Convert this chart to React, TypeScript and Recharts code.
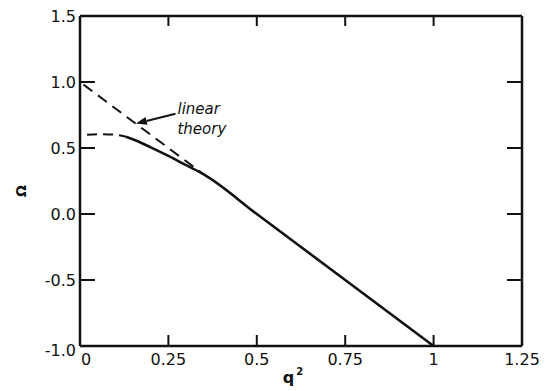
import { LineChart, Line, XAxis, YAxis, ReferenceLine } from 'recharts';

// linear theory (dashed, straight)
const LINEAR_Q2 = [0.01, 0.35];
const LINEAR_OMEGA = [0.98, 0.3];

// dashed saturated branch near q^2 = 0
const SAT_Q2 = [0.02, 0.06, 0.1, 0.13];
const SAT_OMEGA = [0.6, 0.605, 0.6, 0.585];

// solid curve
const SOLID_Q2 = [0.13, 0.16, 0.2, 0.25, 0.3, 0.35, 0.5, 0.75, 1];
const SOLID_OMEGA = [0.585, 0.555, 0.505, 0.44, 0.37, 0.3, 0, -0.5, -1];

const Q2_TICKS = [0, 0.25, 0.5, 0.75, 1, 1.25];
const Q2_TICK_LABELS = ['0', '0.25', '0.5', '0.75', '1', '1.25'];
const OMEGA_TICKS = [-1, -0.5, 0, 0.5, 1, 1.5];
const OMEGA_TICK_LABELS = ['-1.0', '-0.5', '0.0', '0.5', '1.0', '1.5'];

// arrow for the "linear theory" note: tail, tip (data coords)
const ARROW = [
  { x: 0.27, y: 0.76 },
  { x: 0.158, y: 0.685 },
];

const toPoints = (xs: number[], ys: number[]) => xs.map((q2, i) => ({ q2, omega: ys[i] }));
const linearData = toPoints(LINEAR_Q2, LINEAR_OMEGA);
const satData = toPoints(SAT_Q2, SAT_OMEGA);
const solidData = toPoints(SOLID_Q2, SOLID_OMEGA);

const INK = '#111';
const FONT = '"DejaVu Sans", sans-serif';

function BottomTick({ x, y, payload }: any) {
  const i = Q2_TICKS.indexOf(payload.value);
  const first = i === 0;
  return (
    <g>
      <line x1={x} y1={y} x2={x} y2={y - 11} stroke={INK} strokeWidth={2} />
      <text x={x + (first ? 6 : 0)} y={y + 19} textAnchor="middle" fontSize={16} fontFamily={FONT} fill={INK}>
        {Q2_TICK_LABELS[i]}
      </text>
    </g>
  );
}

function TopTick({ x, y }: any) {
  return <line x1={x} y1={y} x2={x} y2={y + 10} stroke={INK} strokeWidth={2} />;
}

function LeftTick({ x, y, payload }: any) {
  const i = OMEGA_TICKS.indexOf(payload.value);
  return (
    <g>
      <line x1={x} y1={y} x2={x + 15} y2={y} stroke={INK} strokeWidth={2} />
      <text x={x - 4} y={y + (i === 0 ? 4 : 0)} dy="0.36em" textAnchor="end" fontSize={16} fontFamily={FONT} fill={INK}>
        {OMEGA_TICK_LABELS[i]}
      </text>
    </g>
  );
}

function RightTick({ x, y }: any) {
  return <line x1={x} y1={y} x2={x - 15} y2={y} stroke={INK} strokeWidth={2} />;
}

function OmegaLabel({ viewBox }: any) {
  const cx = viewBox.x + 21;
  const cy = viewBox.y + viewBox.height / 2 + 10;
  return (
    <text x={cx} y={cy} transform={`rotate(-90 ${cx} ${cy})`} textAnchor="middle" dy="0.35em" fontSize={14} fontWeight="bold" fontFamily={FONT} fill={INK}>
      Ω
    </text>
  );
}

function Q2Label({ viewBox }: any) {
  const cx = viewBox.x + viewBox.width / 2 - 8;
  return (
    <text x={cx} y={viewBox.y + 37} textAnchor="middle" fontSize={16} fontWeight="bold" fontFamily={FONT} fill={INK}>
      q
      <tspan fontSize={10} dx={2} dy={-8}>2</tspan>
    </text>
  );
}

function ArrowNote(props: any) {
  const { x1, y1, x2, y2 } = props;
  const ang = Math.atan2(y2 - y1, x2 - x1);
  const len = 11;
  const hw = 4;
  const bx = x2 - len * Math.cos(ang);
  const by = y2 - len * Math.sin(ang);
  const px = -Math.sin(ang) * hw;
  const py = Math.cos(ang) * hw;
  return (
    <g>
      <line x1={x1} y1={y1} x2={bx} y2={by} stroke={INK} strokeWidth={2} />
      <polygon points={`${x2},${y2} ${bx + px},${by + py} ${bx - px},${by - py}`} fill={INK} />
      <text x={x1 + 2} y={y1} fontSize={15} fontStyle="italic" fontFamily={FONT} fill={INK}>linear</text>
      <text x={x1 + 2} y={y1 + 20} fontSize={15} fontStyle="italic" fontFamily={FONT} fill={INK}>theory</text>
    </g>
  );
}

export default function App() {
  return (
    <div style={{ position: 'absolute', left: 0, top: 0, background: '#fff' }}>
      <LineChart width={551} height={391} margin={{ top: 15, right: 28, bottom: 0, left: 0 }}>
        <XAxis
          xAxisId="bottom"
          dataKey="q2"
          type="number"
          domain={[0, 1.25]}
          ticks={Q2_TICKS}
          height={45}
          tickSize={0}
          tickMargin={0}
          tickLine={false}
          tick={<BottomTick />}
          axisLine={{ stroke: INK, strokeWidth: 2.5 }}
          allowDataOverflow
          label={<Q2Label />}
        />
        <XAxis
          xAxisId="top"
          orientation="top"
          dataKey="q2"
          type="number"
          domain={[0, 1.25]}
          ticks={[0.25, 0.5, 0.75, 1]}
          height={1}
          tickSize={0}
          tickMargin={0}
          tickLine={false}
          tick={<TopTick />}
          axisLine={{ stroke: INK, strokeWidth: 2.5 }}
        />
        <YAxis
          yAxisId="left"
          type="number"
          domain={[-1, 1.5]}
          ticks={OMEGA_TICKS}
          width={80}
          tickSize={0}
          tickMargin={0}
          tickLine={false}
          tick={<LeftTick />}
          axisLine={{ stroke: INK, strokeWidth: 2.5 }}
          allowDataOverflow
          label={<OmegaLabel />}
        />
        <YAxis
          yAxisId="right"
          orientation="right"
          type="number"
          domain={[-1, 1.5]}
          ticks={[-0.5, 0, 0.5, 1]}
          width={1}
          tickSize={0}
          tickMargin={0}
          tickLine={false}
          tick={<RightTick />}
          axisLine={{ stroke: INK, strokeWidth: 2.5 }}
        />
        <Line
          xAxisId="bottom"
          yAxisId="left"
          data={linearData}
          dataKey="omega"
          type="linear"
          stroke={INK}
          strokeWidth={2}
          strokeDasharray="11 7"
          dot={false}
          isAnimationActive={false}
        />
        <Line
          xAxisId="bottom"
          yAxisId="left"
          data={satData}
          dataKey="omega"
          type="monotone"
          stroke={INK}
          strokeWidth={2}
          strokeDasharray="10 6"
          dot={false}
          isAnimationActive={false}
        />
        <Line
          xAxisId="bottom"
          yAxisId="left"
          data={solidData}
          dataKey="omega"
          type="monotone"
          stroke={INK}
          strokeWidth={2.6}
          dot={false}
          isAnimationActive={false}
        />
        <Line
          xAxisId="top"
          yAxisId="right"
          data={solidData}
          dataKey="omega"
          stroke="none"
          dot={false}
          legendType="none"
          isAnimationActive={false}
        />
        <ReferenceLine
          xAxisId="bottom"
          yAxisId="left"
          segment={ARROW}
          shape={<ArrowNote />}
          ifOverflow="visible"
        />
      </LineChart>
    </div>
  );
}
